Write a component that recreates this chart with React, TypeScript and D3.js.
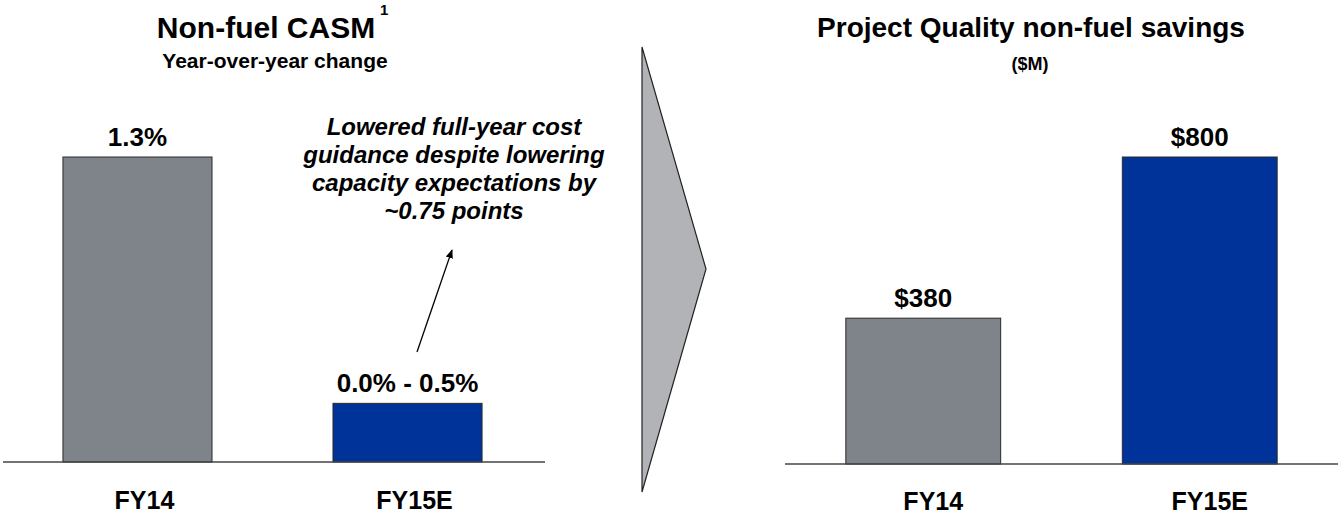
import React from "react";
import * as d3 from "d3";

const categories = ["FY14", "FY15E"];
const casmValues = [1.3, 0.25];
const casmLabels = ["1.3%", "0.0% - 0.5%"];
const savingsValues = [380, 800];
const savingsLabels = ["$380", "$800"];
const barColors = ["#7e848a", "#00339a"];
const noteLines = [
  "Lowered full-year cost",
  "guidance despite lowering",
  "capacity expectations by",
  "~0.75 points",
];

const W = 1338;
const H = 517;
const FONT = "'Liberation Sans', Arial, Helvetica, sans-serif";

export default function App() {
  const xL = d3.scaleBand<string>().domain(categories).range([3, 542]).paddingInner(0.448).paddingOuter(0.222);
  const yL = d3.scaleLinear().domain([0, 1.3]).range([462, 157]);
  const xR = d3.scaleBand<string>().domain(categories).range([785, 1338]).paddingInner(0.44).paddingOuter(0.22);
  const yR = d3.scaleLinear().domain([0, 800]).range([464, 157]);

  const chevron = d3.line()([
    [642, 47],
    [706, 269],
    [642, 492],
  ]) + "Z";

  return (
    <div style={{ position: "absolute", left: 0, top: 0 }}>
      <svg width={W} height={H} style={{ display: "block", fontFamily: FONT }}>
        <defs>
          <marker id="ah" viewBox="0 0 10 10" refX="9" refY="5" markerWidth="7" markerHeight="7" orient="auto">
            <path d="M0,1 L10,5 L0,9 Z" fill="#000" />
          </marker>
        </defs>
        <rect width={W} height={H} fill="#fff" />

        {/* Left panel */}
        <text x={266} y={38} textAnchor="middle" fontSize={30} fontWeight="bold">Non-fuel CASM</text>
        <text x={380} y={15} textAnchor="start" fontSize={15} fontWeight="bold">1</text>
        <text x={275} y={68} textAnchor="middle" fontSize={21} fontWeight="bold">Year-over-year change</text>
        {categories.map((c, i) => (
          <g key={"l" + c}>
            <rect
              x={xL(c)!}
              y={yL(casmValues[i])}
              width={xL.bandwidth()}
              height={yL(0) - yL(casmValues[i])}
              fill={barColors[i]}
              stroke="#2a2a2a"
              strokeWidth={1}
            />
            <text x={xL(c)! + xL.bandwidth() / 2} y={yL(casmValues[i]) - 11} textAnchor="middle" fontSize={26} fontWeight="bold">
              {casmLabels[i]}
            </text>
            <text x={xL(c)! + xL.bandwidth() / 2 + 7} y={509} textAnchor="middle" fontSize={25} fontWeight="bold">
              {c}
            </text>
          </g>
        ))}
        <line x1={3} x2={545} y1={yL(0)} y2={yL(0)} stroke="#444" strokeWidth={1.5} />
        {noteLines.map((t, i) => (
          <text key={t} x={454} y={135 + i * 28} textAnchor="middle" fontSize={24} fontWeight="bold" fontStyle="italic">
            {t}
          </text>
        ))}
        <line x1={417} y1={352} x2={452} y2={250} stroke="#000" strokeWidth={1.3} markerEnd="url(#ah)" />

        {/* Chevron */}
        <path d={chevron} fill="#b1b3b6" stroke="#222" strokeWidth={1.2} />

        {/* Right panel */}
        <text x={1031} y={37} textAnchor="middle" fontSize={28} fontWeight="bold">Project Quality non-fuel savings</text>
        <text x={1030} y={70} textAnchor="middle" fontSize={18} fontWeight="bold">($M)</text>
        {categories.map((c, i) => (
          <g key={"r" + c}>
            <rect
              x={xR(c)!}
              y={yR(savingsValues[i])}
              width={xR.bandwidth()}
              height={yR(0) - yR(savingsValues[i])}
              fill={barColors[i]}
              stroke="#2a2a2a"
              strokeWidth={1}
            />
            <text x={xR(c)! + xR.bandwidth() / 2} y={yR(savingsValues[i]) - 11} textAnchor="middle" fontSize={26} fontWeight="bold">
              {savingsLabels[i]}
            </text>
            <text x={xR(c)! + xR.bandwidth() / 2 + 10} y={510} textAnchor="middle" fontSize={25} fontWeight="bold">
              {c}
            </text>
          </g>
        ))}
        <line x1={785} x2={1338} y1={yR(0)} y2={yR(0)} stroke="#444" strokeWidth={1.5} />
      </svg>
    </div>
  );
}
